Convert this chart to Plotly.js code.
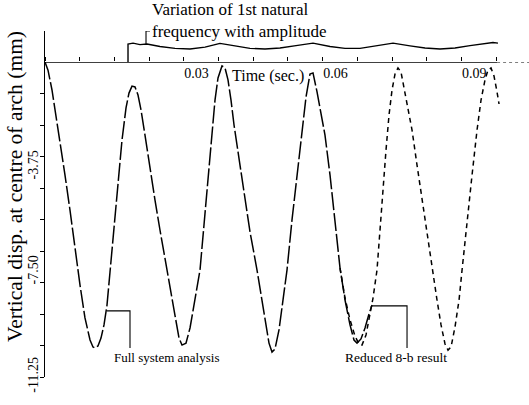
<!DOCTYPE html>
<html>
<head>
<meta charset="utf-8">
<script src="https://cdn.plot.ly/plotly-3.0.1.min.js"></script>
<style>
  html, body { margin: 0; padding: 0; background: #fff; }
  #chart { width: 529px; height: 405px; }
</style>
</head>
<body>
<div id="chart"></div>
<script>
// Vertical displacement at the centre of the arch (mm) against time (s)
const fullTime = [0, 0.00065, 0.00151, 0.00238, 0.00324, 0.00432, 0.00540, 0.00648, 0.00756, 0.00864,
  0.00973, 0.01037, 0.01081, 0.01145, 0.01210, 0.01275, 0.01340, 0.01405, 0.01491, 0.01578,
  0.01664, 0.01751, 0.01815, 0.01880, 0.01945, 0.02010, 0.02075, 0.02161, 0.02269, 0.02377,
  0.02485, 0.02637, 0.02745, 0.02831, 0.02896, 0.02961, 0.03047, 0.03134, 0.03220, 0.03350,
  0.03436, 0.03523, 0.03609, 0.03674, 0.03739, 0.03825, 0.03890, 0.03955, 0.04020, 0.04085,
  0.04214, 0.04322, 0.04431, 0.04582, 0.04690, 0.04776, 0.04841, 0.04906, 0.04971, 0.05057,
  0.05144, 0.05230, 0.05338, 0.05446, 0.05554, 0.05641, 0.05727, 0.05792, 0.05879, 0.05965,
  0.06051, 0.06160, 0.06268, 0.06376, 0.06484, 0.06592, 0.06678, 0.06743, 0.06829, 0.06916,
  0.07002, 0.07067];
const fullDisp = [0, -0.29, -1.00, -1.89, -2.79, -4.04, -5.29, -6.64, -7.96, -9.14,
  -9.93, -10.18, -10.21, -10.14, -9.86, -9.39, -8.68, -7.50, -6.00, -4.39,
  -2.79, -1.64, -1.11, -0.86, -0.89, -1.18, -1.71, -2.61, -3.86, -4.93,
  -6.00, -7.43, -8.50, -9.39, -9.86, -10.11, -10.04, -9.50, -8.61, -7.43,
  -5.82, -4.21, -2.43, -1.36, -0.57, -0.14, -0.21, -0.64, -1.36, -2.25,
  -3.68, -4.93, -6.07, -7.43, -8.50, -9.39, -10.04, -10.36, -10.25, -9.57,
  -8.57, -7.43, -5.64, -4.04, -2.43, -1.25, -0.43, -0.39, -1.07, -1.89,
  -2.61, -4.04, -5.64, -7.36, -8.50, -9.39, -9.93, -10.04, -9.89, -9.50,
  -9.00, -8.68];

const reducedTime = [0.06376, 0.06484, 0.06592, 0.06700, 0.06786, 0.06851, 0.06937, 0.07024, 0.07089, 0.07175,
  0.07240, 0.07305, 0.07370, 0.07435, 0.07500, 0.07564, 0.07629, 0.07694, 0.07759, 0.07845,
  0.07932, 0.08040, 0.08148, 0.08256, 0.08364, 0.08472, 0.08559, 0.08645, 0.08710, 0.08775,
  0.08861, 0.08948, 0.09013, 0.09121, 0.09229, 0.09337, 0.09423, 0.09509, 0.09574, 0.09639,
  0.09704, 0.09769, 0.09812];
const reducedDisp = [-7.36, -8.43, -9.21, -9.79, -10.07, -10.11, -9.75, -9.04, -8.43, -7.43,
  -5.93, -4.57, -3.14, -1.89, -1.00, -0.43, -0.21, -0.36, -0.93, -1.71,
  -2.43, -3.68, -4.93, -6.18, -7.43, -8.50, -9.39, -10.07, -10.29, -10.18,
  -9.46, -8.50, -7.43, -5.64, -4.04, -2.43, -1.36, -0.64, -0.29, -0.21,
  -0.50, -1.07, -1.50];

// First natural frequency (relative scale, unlabelled strip above the main axes)
const freqTime = [0.01794, 0.01794, 0.01902, 0.02053, 0.02204, 0.02485, 0.02810, 0.03134, 0.03458, 0.03782,
  0.04106, 0.04431, 0.04755, 0.05079, 0.05425, 0.05792, 0.06160, 0.06484, 0.06808, 0.07154,
  0.07521, 0.07889, 0.08213, 0.08537, 0.08861, 0.09185, 0.09509, 0.09682, 0.09790];
const freqRel = [0, 0.58, 0.61, 0.56, 0.58, 0.50, 0.44, 0.42, 0.48, 0.60,
  0.52, 0.44, 0.42, 0.45, 0.53, 0.61, 0.50, 0.44, 0.44, 0.52,
  0.61, 0.52, 0.45, 0.42, 0.45, 0.53, 0.61, 0.63, 0.61];

const timeTicks = [0.03, 0.06, 0.09];
const timeTickText = ['0.03', '0.06', '0.09'];
const dispTicks = [0, -3.75, -7.5, -11.25];
const dispTickText = ['0.00', '-3.75', '-7.50', '-11.25'];

const serif = '"Liberation Serif", "Times New Roman", serif';
const ink = '#000';

const traces = [
  {
    x: fullTime, y: fullDisp, type: 'scatter', mode: 'lines',
    line: { color: ink, width: 1.5, dash: '18px,3px' },
    name: 'Full system analysis', cliponaxis: false
  },
  {
    x: reducedTime, y: reducedDisp, type: 'scatter', mode: 'lines',
    line: { color: ink, width: 1.5, dash: '5px,4px' },
    name: 'Reduced 8-b result', cliponaxis: false
  },
  {
    x: freqTime, y: freqRel, type: 'scatter', mode: 'lines', yaxis: 'y2',
    line: { color: ink, width: 1.4 },
    name: 'Natural frequency', cliponaxis: false
  }
];

const split = 315 / 346;

const layout = {
  width: 529, height: 405,
  margin: { l: 45, r: 0, t: 31, b: 28 },
  paper_bgcolor: '#fff', plot_bgcolor: '#fff',
  showlegend: false,
  font: { family: serif, size: 12, color: ink },
  xaxis: {
    range: [0, 0.1046], side: 'top', anchor: 'y',
    showline: false, showgrid: false, zeroline: false,
    tickvals: timeTicks, ticktext: timeTickText,
    ticks: 'outside', ticklen: 4, tickcolor: ink, tickwidth: 1,
    ticklabelposition: 'inside right',
    tickfont: { family: serif, size: 14, color: ink },
    minor: { dtick: 0.0075, tick0: 0, ticks: 'outside', ticklen: 4, tickcolor: ink, showgrid: false }
  },
  yaxis: {
    domain: [0, split], range: [-11.25, 0],
    showline: true, linecolor: ink, linewidth: 1.4,
    showgrid: false, zeroline: false,
    tickvals: dispTicks, ticktext: dispTickText,
    ticks: '', tickangle: -90,
    tickfont: { family: serif, size: 14, color: ink },
    minor: { dtick: 1.125, tick0: 0, ticks: 'outside', ticklen: 4, tickcolor: ink, showgrid: false }
  },
  yaxis2: {
    domain: [split, 1], range: [0, 1], anchor: 'x',
    showline: true, linecolor: ink, linewidth: 1.4,
    showgrid: false, zeroline: false,
    tickvals: [1], ticks: 'outside', ticklen: 4, tickcolor: ink,
    showticklabels: false
  },
  shapes: [
    // time axis along zero displacement, solid then dotted at the far end
    { type: 'line', xref: 'x', yref: 'y', x0: 0, x1: 0.0977, y0: 0, y1: 0,
      line: { color: ink, width: 1.5 } },
    { type: 'line', xref: 'x', yref: 'y', x0: 0.0977, x1: 0.1046, y0: 0, y1: 0,
      line: { color: ink, width: 1.2, dash: 'dot' } },
    // leader lines
    { type: 'path', xref: 'x', yref: 'y2', path: 'M 0.02183,0.58 L 0.02183,1.0 L 0.02269,1.0',
      line: { color: ink, width: 1.1 } },
    { type: 'path', xref: 'x', yref: 'y', path: 'M 0.0134,-8.89 L 0.01837,-8.89 L 0.01837,-10.21',
      line: { color: ink, width: 1.1 } },
    { type: 'path', xref: 'x', yref: 'y', path: 'M 0.07067,-8.71 L 0.07824,-8.71 L 0.07824,-10.21',
      line: { color: ink, width: 1.1 } }
  ],
  annotations: [
    { text: 'Variation of 1st natural<br>frequency with amplitude', xref: 'paper', yref: 'paper',
      x: (150 - 45) / 484, y: (377 - 21) / 346, xanchor: 'left', yanchor: 'middle', align: 'left',
      showarrow: false, font: { family: serif, size: 17, color: ink } },
    { text: 'Time (sec.)', xref: 'x', yref: 'y', x: 0.0482, y: -0.5,
      xanchor: 'center', yanchor: 'middle', showarrow: false,
      font: { family: serif, size: 16, color: ink } },
    { text: 'Full system analysis', xref: 'x', yref: 'y', x: 0.02615, y: -10.54,
      xanchor: 'center', yanchor: 'middle', showarrow: false,
      font: { family: serif, size: 13, color: ink } },
    { text: 'Reduced 8-b result', xref: 'x', yref: 'y', x: 0.07586, y: -10.57,
      xanchor: 'center', yanchor: 'middle', showarrow: false,
      font: { family: serif, size: 13.5, color: ink } },
    { text: 'Vertical disp. at centre of arch (mm)', xref: 'paper', yref: 'paper',
      x: (15 - 45) / 484, y: (377 - 187) / 346, textangle: -90,
      xanchor: 'center', yanchor: 'middle', showarrow: false,
      font: { family: serif, size: 21.5, color: ink } }
  ]
};

Plotly.newPlot('chart', traces, layout, { displayModeBar: false, staticPlot: true });
</script>
</body>
</html>
